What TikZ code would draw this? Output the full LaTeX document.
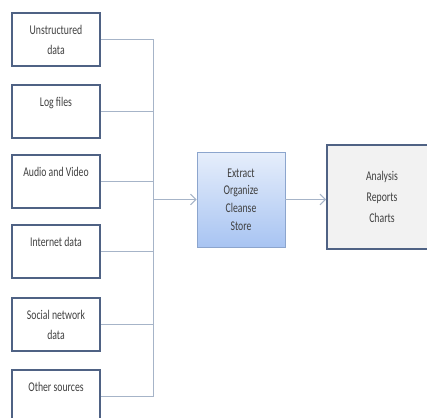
\documentclass[tikz,border=0pt]{standalone}
\usepackage{fontspec}
\setmainfont{Carlito}[FakeStretch=0.73]
\usepackage{xcolor}
\usepackage{tikz}
\usetikzlibrary{arrows.meta, positioning, shadows}
\definecolor{frameblue}{RGB}{79,98,132}
\definecolor{wireblue}{RGB}{166,180,200}
\definecolor{textgrey}{RGB}{64,64,64}
\definecolor{procedge}{RGB}{140,165,205}
\definecolor{proctop}{RGB}{230,238,251}
\definecolor{procbot}{RGB}{168,196,242}
\definecolor{outfill}{RGB}{242,242,242}

\begin{document}
\begin{tikzpicture}[
    x=0.75pt, y=-0.75pt,
    every node/.style={text=textgrey},
    src/.style={draw=frameblue, line width=1.5pt, fill=white, minimum width=66pt, minimum height=39.75pt,
                align=center, font=\fontsize{10}{15}\selectfont},
    proc/.style={draw=procedge, line width=0.6pt, top color=proctop, bottom color=procbot,
                 minimum width=66pt, minimum height=71.25pt, align=center,
                 font=\fontsize{10}{13.3}\selectfont, drop shadow={opacity=0.35, shadow xshift=1pt, shadow yshift=-1pt}},
    sink/.style={draw=frameblue, line width=1.5pt, fill=outfill, minimum width=82.5pt, minimum height=78pt,
                align=center, font=\fontsize{10}{15.75}\selectfont},
    wire/.style={draw=wireblue, line width=0.75pt},
    flow/.style={wire, -{Straight Barb[length=4pt, width=8pt]}}
]
\useasboundingbox (0,0) rectangle (427,417);
\clip (0,0) rectangle (427,417);

% sources
\node[src] (unstr)  at (56,39.5)  {Unstructured\\data};
\node[src] (logs)   at (56,111.5) {Log files\\~};
\node[src] (media)  at (56,181.5) {Audio and Video\\~};
\node[src] (inet)   at (56,251.5) {Internet data\\~};
\node[src] (social) at (56,324.5) {Social network\\data};
\node[src] (other)  at (56,396.5) {Other sources\\~};

% processing and output
\node[proc] (etl)    at (241,199.5) {Extract\\Organize\\Cleanse\\Store};
\node[sink] (report) at (382,197)   {Analysis\\Reports\\Charts};

\coordinate (bus) at (153,199.5);
\foreach \s in {unstr, logs, media, inet, social, other}
    \draw[wire] (\s.east) -| (bus);
\draw[flow] (bus) -- (etl.west);
\draw[flow] (etl.east) -- (etl.east -| report.west);
\end{tikzpicture}
\end{document}
